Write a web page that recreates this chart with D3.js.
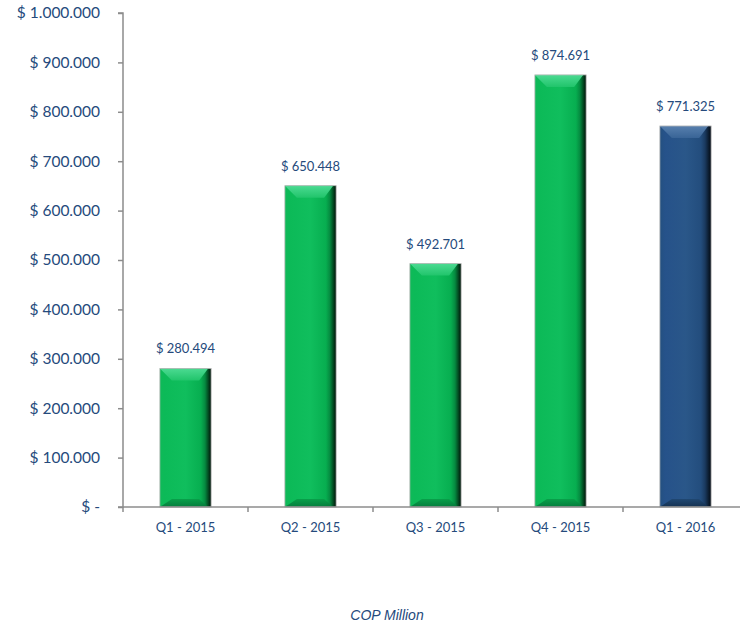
<!DOCTYPE html>
<html>
<head>
<meta charset="utf-8">
<script src="https://cdn.jsdelivr.net/npm/d3@7/dist/d3.min.js"></script>
<style>
  html, body { margin: 0; padding: 0; background: #fff; }
  svg { display: block; }
</style>
</head>
<body>
<svg id="chart" width="740" height="626"></svg>
<script>
// Quarterly revenue, COP million
const categories = ["Q1 - 2015", "Q2 - 2015", "Q3 - 2015", "Q4 - 2015", "Q1 - 2016"];
const values = [280494, 650448, 492701, 874691, 771325];
const yTicks = [0, 100000, 200000, 300000, 400000, 500000, 600000, 700000, 800000, 900000, 1000000];
const axisTitle = "COP Million";

(function () {
const fmtNum = v => d3.format(",")(v).replace(/,/g, ".");
const fmtTick = v => v === 0 ? "$ -" : "$ " + fmtNum(v);

const svg = d3.select("#chart");
const plotLeft = 123, plotRight = 748, plotTop = 13, plotBottom = 507;

const x = d3.scaleBand().domain(categories).range([plotLeft, plotRight]).paddingInner(0.59).paddingOuter(0.295);
const y = d3.scaleLinear().domain([0, 1000000]).range([plotBottom, plotTop]);

const textColor = "#254a7c";
const axisColor = "#8c8c8c";
const font = "Lato, 'Open Sans', sans-serif";

// Gradients for the bevelled bars
const defs = svg.append("defs");
function grad(id, stops, vertical) {
  const g = defs.append("linearGradient").attr("id", id)
    .attr("x1", 0).attr("y1", 0).attr("x2", vertical ? 0 : 1).attr("y2", vertical ? 1 : 0);
  stops.forEach(s => g.append("stop").attr("offset", s[0]).attr("stop-color", s[1]));
}
grad("g-green", [[0, "#0fb958"], [0.1, "#0cba58"], [0.5, "#10be5d"], [0.8, "#07ae50"], [0.88, "#058a40"], [0.95, "#03441f"], [1, "#011208"]]);
grad("g-blue", [[0, "#24507f"], [0.1, "#26528a"], [0.5, "#2a5789"], [0.8, "#234d7d"], [0.88, "#1a3a60"], [0.95, "#0c1d31"], [1, "#030a12"]]);
grad("g-green-top", [[0, "#4fdc95"], [1, "#22c56c"]], true);
grad("g-blue-top", [[0, "#5a82b0"], [1, "#3a6597"]], true);
grad("g-green-bot", [[0, "#089c48"], [1, "#04773a"]], true);
grad("g-blue-bot", [[0, "#1f466f"], [1, "#132e4c"]], true);

const data = categories.map((c, i) => ({ c, v: values[i], kind: i === categories.length - 1 ? "blue" : "green" }));

const bars = svg.append("g").selectAll("g").data(data).join("g");
const bevTop = 12, bevBot = 8, bevSide = 12;

bars.append("rect")
  .attr("x", d => x(d.c))
  .attr("y", d => y(d.v))
  .attr("width", x.bandwidth())
  .attr("height", d => y(0) - y(d.v))
  .attr("fill", d => `url(#g-${d.kind})`);

// top bevel
bars.append("path")
  .attr("d", d => {
    const x0 = x(d.c), x1 = x0 + x.bandwidth(), yt = y(d.v);
    return `M${x0},${yt} L${x1 - 3},${yt} L${x1 - bevSide},${yt + bevTop} L${x0 + bevSide},${yt + bevTop} Z`;
  })
  .attr("fill", d => `url(#g-${d.kind}-top)`)
  .attr("opacity", 0.95);

// bottom bevel
bars.append("path")
  .attr("d", d => {
    const x0 = x(d.c), x1 = x0 + x.bandwidth(), yb = y(0);
    return `M${x0},${yb} L${x1 - 3},${yb} L${x1 - bevSide},${yb - bevBot} L${x0 + bevSide},${yb - bevBot} Z`;
  })
  .attr("fill", d => `url(#g-${d.kind}-bot)`)
  .attr("opacity", 0.9);

// thin outline
bars.append("rect")
  .attr("x", d => x(d.c))
  .attr("y", d => y(d.v))
  .attr("width", x.bandwidth())
  .attr("height", d => y(0) - y(d.v))
  .attr("fill", "none")
  .attr("stroke", "#b8b8b8")
  .attr("stroke-width", 0.8);

// Value labels
svg.append("g").selectAll("text").data(data).join("text")
  .attr("x", d => x(d.c) + x.bandwidth() / 2)
  .attr("y", d => y(d.v) - 15)
  .attr("text-anchor", "middle")
  .attr("font-family", font)
  .attr("font-size", 13)
  .attr("fill", textColor)
  .text(d => "$ " + fmtNum(d.v));

// Y axis
const yAxis = svg.append("g").attr("transform", `translate(${plotLeft},0)`)
  .call(d3.axisLeft(y).tickValues(yTicks).tickFormat(fmtTick).tickSize(5).tickPadding(18));
yAxis.select(".domain").attr("stroke", axisColor).attr("stroke-width", 1.5).attr("d", `M-5,${plotTop}H0V${plotBottom}H-5`);
yAxis.selectAll(".tick line").attr("stroke", axisColor).attr("stroke-width", 1.5);
yAxis.selectAll(".tick text")
  .attr("font-family", font)
  .attr("font-size", 15.5)
  .attr("fill", textColor);

// X axis
const xAxis = svg.append("g").attr("transform", `translate(0,${plotBottom})`);
xAxis.append("line").attr("x1", plotLeft).attr("x2", 740).attr("y1", 0).attr("y2", 0)
  .attr("stroke", axisColor).attr("stroke-width", 1.5);
const bounds = categories.map(c => x(c) - x.step() * x.paddingInner() / 2);
xAxis.selectAll("line.tk").data(bounds).join("line").attr("class", "tk")
  .attr("x1", d => d).attr("x2", d => d).attr("y1", 0).attr("y2", 5)
  .attr("stroke", axisColor).attr("stroke-width", 1.5);
xAxis.selectAll("text").data(categories).join("text")
  .attr("x", d => x(d) + x.bandwidth() / 2)
  .attr("y", 25)
  .attr("text-anchor", "middle")
  .attr("font-family", font)
  .attr("font-size", 13)
  .attr("fill", textColor)
  .text(d => d);

// Unit caption
svg.append("text")
  .attr("x", 387).attr("y", 620)
  .attr("text-anchor", "middle")
  .attr("font-family", "'Liberation Sans', Arial, sans-serif")
  .attr("font-style", "italic")
  .attr("font-size", 14)
  .attr("fill", textColor)
  .text(axisTitle);
})();
</script>
</body>
</html>
